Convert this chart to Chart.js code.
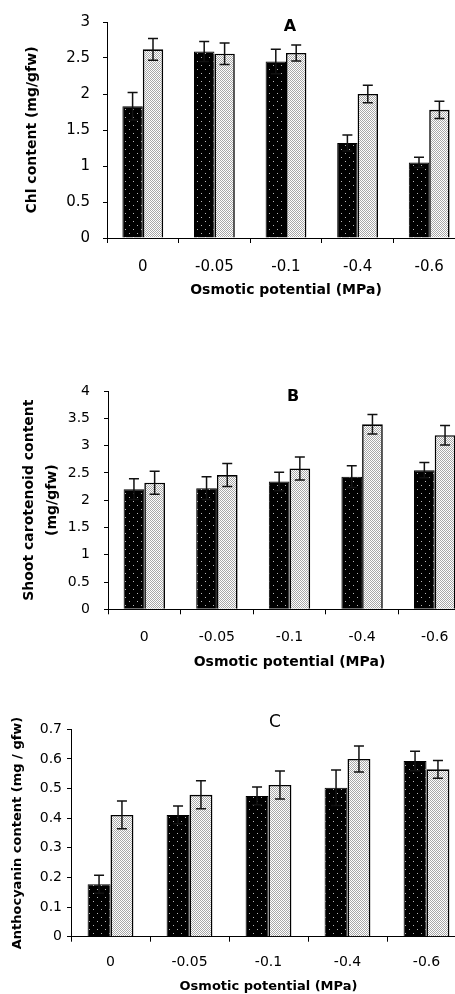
<!DOCTYPE html>
<html lang="en">
<head>
<meta charset="UTF-8">
<title>Pigment content vs osmotic potential</title>
<script src="https://cdn.jsdelivr.net/npm/chart.js@4.4.1/dist/chart.umd.min.js"></script>
<style>
  html, body { margin: 0; padding: 0; background: #fff; overflow: hidden; }
  body { width: 455px; height: 994px; position: relative; }
  canvas { position: absolute; left: 0; }
</style>
</head>
<body>
<canvas id="chartA" width="465" height="310" style="top:0px"></canvas>
<canvas id="chartB" width="471" height="355" style="top:320px"></canvas>
<canvas id="chartC" width="466" height="314" style="top:680px"></canvas>

<script>
const categories = ['0', '-0.05', '-0.1', '-0.4', '-0.6'];

// A - chlorophyll
const chlDark = [1.83, 2.59, 2.45, 1.32, 1.05];
const chlDarkErr = [0.19, 0.14, 0.17, 0.11, 0.07];
const chlLight = [2.62, 2.56, 2.57, 2.00, 1.78];
const chlLightErr = [0.15, 0.15, 0.11, 0.12, 0.12];
const chlTicks = [0, 0.5, 1, 1.5, 2, 2.5, 3];

// B - carotenoids
const carDark = [2.20, 2.22, 2.34, 2.43, 2.55];
const carDarkErr = [0.19, 0.21, 0.17, 0.20, 0.14];
const carLight = [2.32, 2.46, 2.58, 3.39, 3.19];
const carLightErr = [0.21, 0.21, 0.21, 0.18, 0.18];
const carTicks = [0, 0.5, 1, 1.5, 2, 2.5, 3, 3.5, 4];

// C - anthocyanin
const antDark = [0.177, 0.411, 0.475, 0.503, 0.593];
const antDarkErr = [0.030, 0.030, 0.030, 0.060, 0.033];
const antLight = [0.411, 0.479, 0.512, 0.600, 0.565];
const antLightErr = [0.047, 0.047, 0.047, 0.044, 0.030];
const antTicks = [0, 0.1, 0.2, 0.3, 0.4, 0.5, 0.6, 0.7];

const FONT = '"DejaVu Sans", sans-serif';

function tile(size, bg, fg, dots) {
    const c = document.createElement('canvas');
    c.width = c.height = size;
    const g = c.getContext('2d');
    g.fillStyle = bg;
    g.fillRect(0, 0, size, size);
    g.fillStyle = fg;
    dots.forEach(([x, y]) => g.fillRect(x, y, 1, 1));
    return c;
}
const darkTile = tile(8, '#000', '#b8b8b8', [[1, 1], [5, 5]]);
const lightTile = tile(2, '#fff', '#a8a8a8', [[0, 0], [1, 1]]);

// error bars drawn from each dataset's "errors" array
const errorBars = {
    id: 'errorBars',
    afterDatasetsDraw(chart) {
        const { ctx, scales: { y } } = chart;
        ctx.save();
        ctx.strokeStyle = '#111';
        ctx.lineWidth = 1.5;
        chart.data.datasets.forEach((ds, i) => {
            chart.getDatasetMeta(i).data.forEach((bar, j) => {
                const v = ds.data[j], e = ds.errors[j];
                const top = y.getPixelForValue(v + e);
                const bot = y.getPixelForValue(v - e);
                ctx.beginPath();
                ctx.moveTo(bar.x, top); ctx.lineTo(bar.x, bot);
                ctx.moveTo(bar.x - 5, top); ctx.lineTo(bar.x + 5, top);
                ctx.moveTo(bar.x - 5, bot); ctx.lineTo(bar.x + 5, bot);
                ctx.stroke();
            });
        });
        ctx.restore();
    }
};

const panelLetter = {
    id: 'panelLetter',
    afterDraw(chart, args, opts) {
        const ctx = chart.ctx;
        ctx.save();
        ctx.font = opts.font;
        ctx.fillStyle = '#000';
        ctx.textAlign = 'center';
        ctx.textBaseline = 'middle';
        ctx.fillText(opts.text, opts.x, opts.y);
        ctx.restore();
    }
};

function makePanel(id, p) {
    const canvas = document.getElementById(id);
    const ctx = canvas.getContext('2d');
    new Chart(canvas, {
        type: 'bar',
        data: {
            labels: categories,
            datasets: [
                { data: p.dark, errors: p.darkErr, backgroundColor: ctx.createPattern(darkTile, 'repeat'),
                  borderColor: '#000', borderWidth: 1, categoryPercentage: p.catPct, barPercentage: 1 },
                { data: p.light, errors: p.lightErr, backgroundColor: ctx.createPattern(lightTile, 'repeat'),
                  borderColor: '#000', borderWidth: 1.6, categoryPercentage: p.catPct, barPercentage: 1 }
            ]
        },
        options: {
            responsive: false,
            animation: false,
            devicePixelRatio: 1,
            layout: { padding: { top: p.top, left: 0, right: 0, bottom: 0 } },
            plugins: {
                legend: { display: false },
                tooltip: { enabled: false },
                panelLetter: p.letter
            },
            scales: {
                x: {
                    grid: { offset: true, drawOnChartArea: false, drawTicks: true, tickLength: 5, color: '#000' },
                    border: { display: true, color: '#000', width: 1 },
                    ticks: { color: '#000', font: { family: FONT, size: p.tickSize }, padding: p.xPad,
                             maxRotation: 0, autoSkip: false },
                    title: { display: true, text: 'Osmotic potential (MPa)', color: '#000',
                             font: { family: FONT, size: p.xTitleSize, weight: 'bold' },
                             padding: { top: 0, bottom: p.xTitlePad } },
                    afterFit: s => { s.height = p.xHeight; }
                },
                y: {
                    min: 0,
                    max: p.ticks[p.ticks.length - 1],
                    afterBuildTicks: s => { s.ticks = p.ticks.map(v => ({ value: v })); },
                    grid: { drawOnChartArea: false, drawTicks: true, tickLength: 4, color: '#000' },
                    border: { display: true, color: '#000', width: 1 },
                    ticks: { color: '#000', font: { family: FONT, size: p.tickSize }, padding: p.yPad,
                             callback: v => String(v) },
                    title: { display: true, text: p.yTitle, color: '#000',
                             font: { family: FONT, size: p.yTitleSize, weight: 'bold', lineHeight: p.yTitleLH },
                             padding: { top: p.yTitlePad, bottom: 0 } },
                    afterFit: s => { s.width = p.left; }
                }
            }
        },
        plugins: [errorBars, panelLetter]
    });
}

makePanel('chartA', {
    dark: chlDark, darkErr: chlDarkErr, light: chlLight, lightErr: chlLightErr, ticks: chlTicks,
    yTitle: 'Chl content (mg/gfw)', catPct: 0.57,
    top: 21, left: 107, xHeight: 72, tickSize: 15, xPad: 15, xTitleSize: 14, xTitlePad: 11,
    yPad: 13, yTitleSize: 14, yTitleLH: 1.2, yTitlePad: 23.6,
    letter: { text: 'A', x: 290, y: 27, font: 'bold 16px ' + FONT }
});

makePanel('chartB', {
    dark: carDark, darkErr: carDarkErr, light: carLight, lightErr: carLightErr, ticks: carTicks,
    yTitle: ['Shoot carotenoid content', '(mg/gfw)'], catPct: 0.57,
    top: 71, left: 108, xHeight: 65.7, tickSize: 14, xPad: 14.3, xTitleSize: 14, xTitlePad: 4,
    yPad: 14, yTitleSize: 14, yTitleLH: 1.7, yTitlePad: 17.1,
    letter: { text: 'B', x: 293, y: 77, font: 'bold 16px ' + FONT }
});

makePanel('chartC', {
    dark: antDark, darkErr: antDarkErr, light: antLight, lightErr: antLightErr, ticks: antTicks,
    yTitle: 'Anthocyanin content (mg / gfw)', catPct: 0.58,
    top: 49.3, left: 71, xHeight: 57.3, tickSize: 14, xPad: 12, xTitleSize: 13, xTitlePad: 0,
    yPad: 5, yTitleSize: 13, yTitleLH: 1.2, yTitlePad: 10.2,
    letter: { text: 'C', x: 275, y: 43, font: '17px ' + FONT }
});
</script>
</body>
</html>
